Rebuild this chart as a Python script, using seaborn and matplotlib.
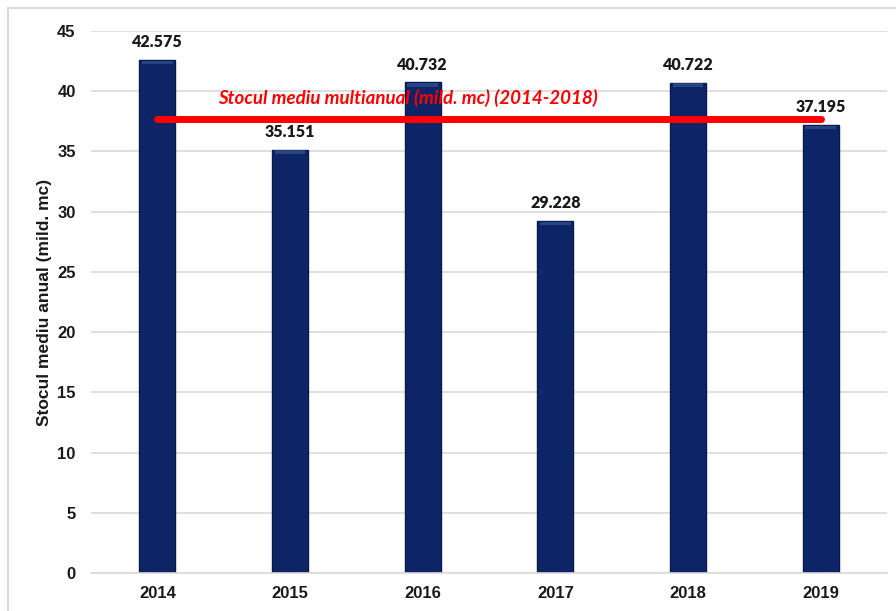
import matplotlib
matplotlib.use('Agg')
import matplotlib.pyplot as plt
import seaborn as sns
import pandas as pd
from matplotlib.patches import Rectangle

# data
years = ['2014', '2015', '2016', '2017', '2018', '2019']
stoc = [42.575, 35.151, 40.732, 29.228, 40.722, 37.195]
medie_years = ['2014', '2015', '2016', '2017', '2018']
medie = sum(stoc[:5]) / len(medie_years)  # ~37.68
labels = ['42.575', '35.151', '40.732', '29.228', '40.722', '37.195']
yticks = [0, 5, 10, 15, 20, 25, 30, 35, 40, 45]

df = pd.DataFrame({'An': years, 'Stoc': stoc})

sns.set_style('white')
plt.rcParams['font.family'] = ['Liberation Sans', 'DejaVu Sans']

fig = plt.figure(figsize=(8.96, 6.11), dpi=100)
ax = fig.add_axes([91/896, 1 - 573/611, (887 - 91)/896, (573 - 31)/611])

sns.barplot(data=df, x='An', y='Stoc', color='#0d2567', width=0.27,
            edgecolor='#0a1a4a', linewidth=1.0, saturation=1, ax=ax, zorder=2)

# light bevel on top of each bar
for p in ax.patches:
    x0, w, h = p.get_x(), p.get_width(), p.get_height()
    ax.add_patch(Rectangle((x0 + 0.02, h - 0.35), w - 0.04, 0.3,
                           color='#3a5a9e', alpha=0.6, zorder=3, lw=0))

for i, v in enumerate(stoc):
    ax.annotate(labels[i], (i, v), xytext=(0, 7), textcoords='offset points',
                ha='center', va='bottom', fontsize=11.5, fontweight='heavy',
                color='#1a1a1a', family=['Lato', 'Liberation Sans', 'DejaVu Sans'])

# average line 2014-2018
ax.plot([0, 5], [medie, medie], color='red', lw=5, solid_capstyle='round', zorder=4)
ax.text(0.46, medie + 1.0, 'Stocul mediu multianual (mild. mc) (2014-2018)',
        color='red', fontsize=13.5, fontweight='bold', style='italic',
        ha='left', va='bottom', zorder=5, family=['Lato', 'Liberation Sans', 'DejaVu Sans'])

ax.set_xlim(-0.5, 5.5)
ax.set_ylim(0, 45)
ax.set_yticks(yticks)
ax.set_yticklabels([str(t) for t in yticks])
ax.yaxis.grid(True, color='#d9d9d9', lw=1.2, zorder=0)
ax.set_axisbelow(True)
for s in ['top', 'right', 'left']:
    ax.spines[s].set_visible(False)
ax.spines['bottom'].set_color('#d9d9d9')
ax.spines['bottom'].set_linewidth(1.2)
ax.tick_params(axis='both', length=0, labelsize=12, colors='#1a1a1a')
ax.tick_params(axis='y', pad=11)
ax.tick_params(axis='x', pad=9)
for t in ax.get_xticklabels() + ax.get_yticklabels():
    t.set_fontweight('bold')
ax.set_xlabel('')
ax.set_ylabel('Stocul mediu anual (mild. mc)', fontsize=12.5, fontweight='bold',
              color='#1a1a1a')
ax.yaxis.set_label_coords(-0.049, 0.5)

# outer chart frame
fig.patches.append(Rectangle((8/896, -0.1), 1.0, 1 - 8/611 + 0.1,
                             transform=fig.transFigure, fill=False,
                             edgecolor='#d9d9d9', lw=1.5))

fig.savefig('out.png', dpi=100)
